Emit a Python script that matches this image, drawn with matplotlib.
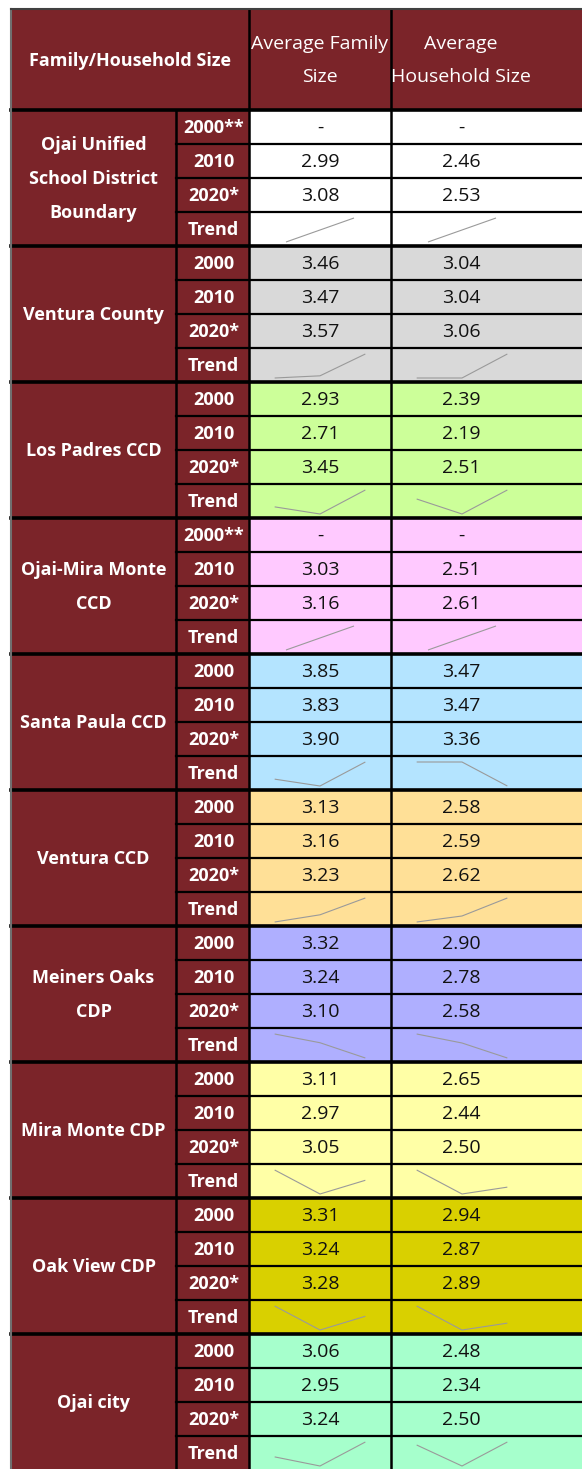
import matplotlib.pyplot as plt
from matplotlib.patches import Rectangle

# data
places = ['Ojai Unified\nSchool District\nBoundary', 'Ventura County', 'Los Padres CCD',
          'Ojai-Mira Monte\nCCD', 'Santa Paula CCD', 'Ventura CCD', 'Meiners Oaks\nCDP',
          'Mira Monte CDP', 'Oak View CDP', 'Ojai city']
years = [['2000**', '2010', '2020*'], ['2000', '2010', '2020*'], ['2000', '2010', '2020*'],
         ['2000**', '2010', '2020*'], ['2000', '2010', '2020*'], ['2000', '2010', '2020*'],
         ['2000', '2010', '2020*'], ['2000', '2010', '2020*'], ['2000', '2010', '2020*'],
         ['2000', '2010', '2020*']]
family_size = [[None, 2.99, 3.08], [3.46, 3.47, 3.57], [2.93, 2.71, 3.45], [None, 3.03, 3.16],
               [3.85, 3.83, 3.90], [3.13, 3.16, 3.23], [3.32, 3.24, 3.10], [3.11, 2.97, 3.05],
               [3.31, 3.24, 3.28], [3.06, 2.95, 3.24]]
household_size = [[None, 2.46, 2.53], [3.04, 3.04, 3.06], [2.39, 2.19, 2.51], [None, 2.51, 2.61],
                  [3.47, 3.47, 3.36], [2.58, 2.59, 2.62], [2.90, 2.78, 2.58], [2.65, 2.44, 2.50],
                  [2.94, 2.87, 2.89], [2.48, 2.34, 2.50]]
fills = ['#FFFFFF', '#D9D9D9', '#CCFF99', '#FFC9FF', '#B4E4FF', '#FFE097',
         '#AFAFFF', '#FFFFA6', '#D9D000', '#A6FFCC']
col_headers = ['Average Family\nSize', 'Average\nHousehold Size']

maroon = '#7B2429'
W, H = 582, 1469
x_left, x_lab, x_year, x_v1, x_v2 = 11, 176, 249, 391, 533
head_top, head_bot = 9, 110
row_h, grp_h = 34, 136
font = 'Open Sans'

fig = plt.figure(figsize=(W / 100, H / 100), dpi=100)
ax = fig.add_axes([0, 0, 1, 1])
ax.set_xlim(0, W)
ax.set_ylim(H, 0)
ax.axis('off')

# header
ax.add_patch(Rectangle((x_left, head_top), W - x_left, head_bot - head_top, color=maroon, lw=0))
ax.text((x_left + x_year) / 2, (head_top + head_bot) / 2 + 1, 'Family/Household Size', color='white',
        fontsize=13, fontweight='bold', family=font, ha='center', va='center')
for cx, lbl in zip([(x_year + x_v1) / 2, (x_v1 + x_v2) / 2 - 1], col_headers):
    ax.text(cx, (head_top + head_bot) / 2 + 1, lbl, color='white', fontsize=14, fontweight='normal',
            family=font, ha='center', va='center', linespacing=2.05)


def spark(x0, top, vals):
    pts = [v for v in vals if v is not None]
    n = len(pts)
    lo, hi = min(pts), max(pts)
    xs = [x0 + 3 + (i + 0.5) * (x_v2 - x_v1 - 6) / n for i in range(n)]
    y_hi, y_lo = top + 6, top + row_h - 4
    if hi == lo:
        ys = [(y_hi + y_lo) / 2] * n
    else:
        ys = [y_lo - (v - lo) / (hi - lo) * (y_lo - y_hi) for v in pts]
    ax.plot(xs, ys, color='#9A9A9A', lw=0.8, solid_capstyle='butt')


for g, place in enumerate(places):
    top = head_bot + g * grp_h
    ax.add_patch(Rectangle((x_left, top), x_year - x_left, grp_h, color=maroon, lw=0))
    ax.add_patch(Rectangle((x_year, top), W - x_year, grp_h, color=fills[g], lw=0))
    ax.text((x_left + x_lab) / 2, top + grp_h / 2 + 1, place, color='white', fontsize=13,
            fontweight='bold', family=font, ha='center', va='center', linespacing=2.12)
    labels = years[g] + ['Trend']
    for r in range(4):
        ry = top + r * row_h
        ax.text((x_lab + x_year) / 2 + 1, ry + row_h / 2 + 1, labels[r], color='white', fontsize=13,
                fontweight='bold', family=font, ha='center', va='center')
        if r < 3:
            for cx, series in zip([(x_year + x_v1) / 2, (x_v1 + x_v2) / 2 - 1],
                                  [family_size, household_size]):
                v = series[g][r]
                s = '-' if v is None else f'{v:.2f}'
                ax.text(cx, ry + row_h / 2 + 1, s, color='#111111', fontsize=14, family=font,
                        ha='center', va='center')
        if r > 0:
            ax.plot([x_lab, W], [ry, ry], color='black', lw=1.6)
    spark(x_year, top + 3 * row_h, family_size[g])
    spark(x_v1, top + 3 * row_h, household_size[g])
    ax.plot([x_left, W], [top, top], color='black', lw=2.6)

# vertical grid lines
for xv in [x_lab, x_year, x_v1]:
    ax.plot([xv, xv], [head_top if xv != x_lab else head_bot, H], color='black', lw=1.8)
ax.plot([x_left - 0.5, x_left - 0.5], [head_top, H], color='#707070', lw=1.5)
ax.plot([x_left, W], [head_top, head_top], color='#404040', lw=1.5)

fig.savefig('out.png', dpi=100)
